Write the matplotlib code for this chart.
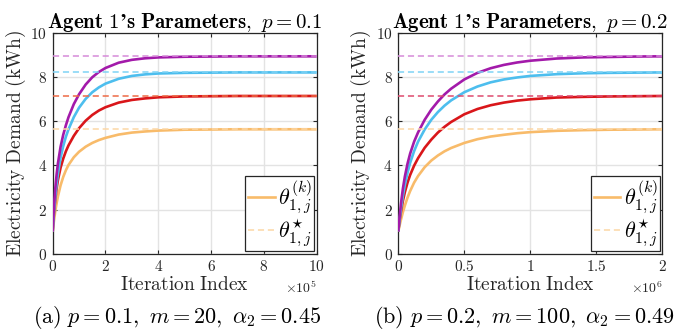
import matplotlib
matplotlib.use("Agg")
import matplotlib.pyplot as plt
from matplotlib.lines import Line2D

plt.rcParams['mathtext.fontset'] = 'cm'
plt.rcParams['font.family'] = ['DejaVu Serif']

# ---------------- data ----------------
# Panel (a): x in units of 1e5 iterations
xa = [0, 0.025, 0.05, 0.1, 0.15, 0.2, 0.3, 0.4, 0.5, 0.6, 0.8, 1.0, 1.25, 1.5,
      1.75, 2.0, 2.5, 3, 3.5, 4, 5, 6, 7, 8, 10]
a_purple = [1.0, 1.61, 2.13, 2.97, 3.60, 4.10, 4.85, 5.39, 5.82, 6.19, 6.78, 7.23, 7.67,
            8.00, 8.24, 8.42, 8.66, 8.79, 8.86, 8.90, 8.93, 8.94, 8.95, 8.95, 8.95]
a_blue = [1.0, 1.48, 1.90, 2.60, 3.17, 3.63, 4.35, 4.88, 5.30, 5.64, 6.19, 6.62, 7.02,
          7.32, 7.54, 7.71, 7.93, 8.06, 8.13, 8.17, 8.20, 8.21, 8.22, 8.22, 8.22]
a_red = [1.0, 1.45, 1.84, 2.47, 2.96, 3.34, 3.90, 4.31, 4.64, 4.91, 5.34, 5.69, 6.03,
         6.29, 6.49, 6.64, 6.85, 6.97, 7.04, 7.09, 7.13, 7.14, 7.15, 7.15, 7.15]
a_orange = [1.0, 1.26, 1.50, 1.93, 2.29, 2.60, 3.10, 3.48, 3.78, 4.02, 4.37, 4.62, 4.85,
            5.02, 5.15, 5.25, 5.40, 5.49, 5.54, 5.58, 5.62, 5.63, 5.64, 5.64, 5.64]

# Panel (b): x in units of 1e6 iterations
xb = [0, 0.01, 0.02, 0.035, 0.05, 0.07, 0.09, 0.12, 0.15, 0.2, 0.25, 0.3, 0.35,
      0.4, 0.5, 0.6, 0.7, 0.8, 0.9, 1.0, 1.2, 1.4, 1.6, 1.8, 2.0]
b_purple = [1.0, 1.68, 2.25, 2.95, 3.50, 4.08, 4.54, 5.08, 5.50, 6.07, 6.53, 6.90, 7.22,
            7.48, 7.90, 8.20, 8.41, 8.56, 8.67, 8.75, 8.85, 8.90, 8.92, 8.94, 8.95]
b_blue = [1.0, 1.54, 2.02, 2.62, 3.12, 3.67, 4.12, 4.65, 5.08, 5.63, 6.07, 6.42, 6.71,
          6.95, 7.32, 7.58, 7.77, 7.90, 7.99, 8.06, 8.14, 8.18, 8.20, 8.21, 8.22]
b_red = [1.0, 1.49, 1.89, 2.39, 2.79, 3.22, 3.57, 3.99, 4.33, 4.80, 5.17, 5.49, 5.75,
         5.97, 6.32, 6.56, 6.73, 6.85, 6.94, 7.00, 7.08, 7.11, 7.13, 7.14, 7.15]
b_orange = [1.0, 1.28, 1.53, 1.88, 2.18, 2.54, 2.84, 3.22, 3.52, 3.92, 4.22, 4.45, 4.64,
            4.79, 5.02, 5.19, 5.31, 5.39, 5.46, 5.51, 5.57, 5.60, 5.62, 5.63, 5.64]

# optimal parameters theta*
theta_star = [8.97, 8.25, 7.17, 5.65]   # purple, blue, red, orange

yticks = [0, 2, 4, 6, 8, 10]
xticks_a = [0, 2, 4, 6, 8, 10]
xticks_b = [0, 0.5, 1, 1.5, 2]
xticklabels_b = ['0', '0.5', '1', '1.5', '2']

titles = [r"$\mathbf{Agent\ 1’s\ Parameters,}\ p=0.1$",
          r"$\mathbf{Agent\ 1’s\ Parameters,}\ p=0.2$"]
captions = [r"$\mathrm{(a)}\ p=0.1,\ m=20,\ \alpha_2=0.45$",
            r"$\mathrm{(b)}\ p=0.2,\ m=100,\ \alpha_2=0.49$"]
multipliers = [r"$\times10^{5}$", r"$\times10^{6}$"]

# ---------------- style ----------------
solid_cols = ['#A31AAA', '#4DBEEE', '#D9161A', '#F8BB6A']
dash_cols_a = ['#D68AD9', '#7FD3F5', '#EE6A45', '#FCD7A6']
dash_cols_b = ['#D68AD9', '#7FD3F5', '#DE4A6E', '#FCD7A6']

fig = plt.figure(figsize=(6.77, 3.35), dpi=100)
axA = fig.add_axes([0.0778, 0.243, 0.390, 0.658])
axB = fig.add_axes([0.5883, 0.243, 0.390, 0.658])

panels = [
    (axA, xa, [a_purple, a_blue, a_red, a_orange], xticks_a,
     [str(t) for t in xticks_a], 10, dash_cols_a),
    (axB, xb, [b_purple, b_blue, b_red, b_orange], xticks_b,
     xticklabels_b, 2, dash_cols_b),
]

for i, (ax, x, series, xt, xtl, xmax, dcols) in enumerate(panels):
    ax.grid(True, color='#E3E3E3', lw=1.0, zorder=0)
    ax.set_axisbelow(True)
    for ys, c in zip(series[::-1], solid_cols[::-1]):
        ax.plot(x, ys, color=c, lw=1.9, zorder=3, solid_capstyle='butt')
    for v, c in zip(theta_star, dcols):
        ax.axhline(v, color=c, lw=1.1, ls=(0, (4, 2.5)), zorder=4)
    ax.set_xlim(0, xmax)
    ax.set_ylim(0, 10)
    ax.set_xticks(xt)
    ax.set_xticklabels(['$\\mathrm{%s}$' % s for s in xtl])
    ax.set_yticks(yticks)
    ax.set_yticklabels(['$\\mathrm{%d}$' % t for t in yticks])
    ax.tick_params(direction='in', length=3, width=0.8, colors='#262626',
                   labelsize=11, top=True, right=True, pad=4)
    for s in ax.spines.values():
        s.set_color('#262626')
        s.set_linewidth(0.9)
    ax.set_title(titles[i], fontsize=15, pad=4, color='black')
    ax.set_xlabel(r"$\mathrm{Iteration\ Index}$", fontsize=14, labelpad=1,
                  color='#262626')
    ax.set_ylabel(r"$\mathrm{Electricity\ Demand\ (kWh)}$", fontsize=14,
                  labelpad=2, color='#262626')
    ax.text(1.0, -0.155, multipliers[i], transform=ax.transAxes,
            ha='right', va='center', fontsize=10, color='#262626')
    handles = [Line2D([], [], color=solid_cols[3], lw=1.9),
               Line2D([], [], color=dcols[3], lw=1.1, ls=(0, (4, 2.5)))]
    leg = ax.legend(handles, [r"$\theta_{1,j}^{(k)}$", r"$\theta_{1,j}^{\star}$"],
                    loc='lower right', fontsize=16, frameon=True, fancybox=False,
                    edgecolor='#262626', framealpha=1.0, borderpad=0.12,
                    handlelength=1.2, handletextpad=0.15, labelspacing=0.1,
                    borderaxespad=0.1)
    leg.get_frame().set_linewidth(0.9)

fig.text(0.262, 0.052, captions[0], ha='center', va='center', fontsize=16)
fig.text(0.775, 0.052, captions[1], ha='center', va='center', fontsize=16)

fig.savefig('out.png', dpi=100)
